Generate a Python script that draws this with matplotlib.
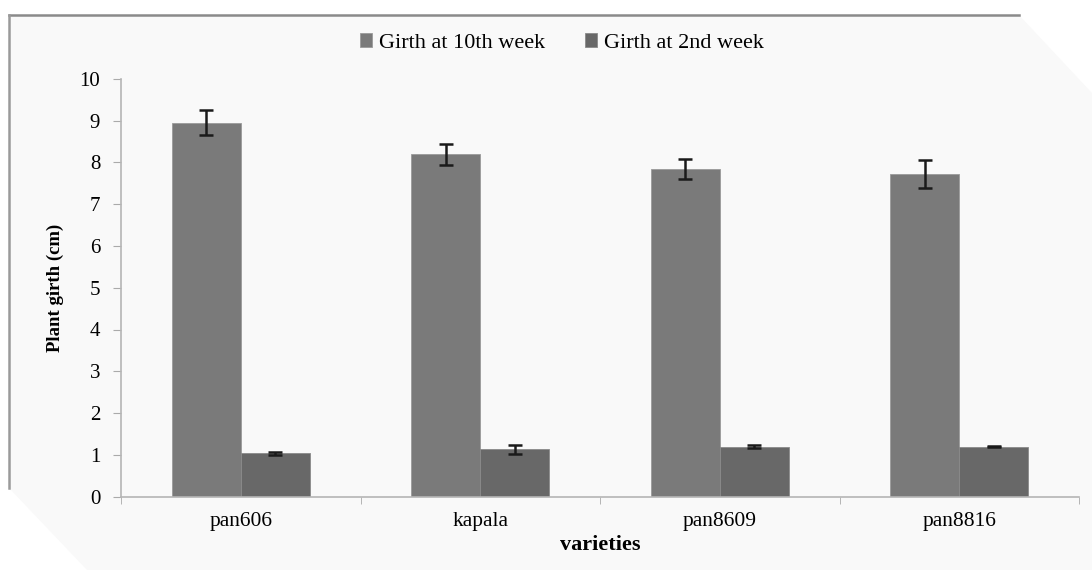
import numpy as np
import matplotlib.pyplot as plt
from matplotlib.patches import Polygon
from matplotlib.lines import Line2D

varieties = ['pan606', 'kapala', 'pan8609', 'pan8816']
girth_10th = [8.95, 8.19, 7.84, 7.72]
err_10th = [0.29, 0.245, 0.25, 0.33]
girth_2nd = [1.04, 1.13, 1.20, 1.20]
err_2nd = [0.04, 0.10, 0.04, 0.02]
series_names = ['Girth at 10th week', 'Girth at 2nd week']

plt.rcParams['font.family'] = ['Liberation Serif', 'DejaVu Serif']

W, H = 1092, 570
fig = plt.figure(figsize=(W / 100, H / 100), dpi=100)
fig.patch.set_facecolor('white')

# beveled panel behind the chart (pixel coords -> figure fraction)
def fp(x, y):
    return (x / W, 1 - y / H)

panel = Polygon([fp(9, 15), fp(1019, 15), fp(1092, 93), fp(1092, 570),
                 fp(87, 570), fp(9, 488)], closed=True,
                transform=fig.transFigure, facecolor='#f9f9f9',
                edgecolor='none', zorder=-5)
fig.patches.append(panel)
fig.lines.append(Line2D([fp(9, 15)[0], fp(1019, 15)[0]], [fp(9, 15)[1]] * 2,
                        transform=fig.transFigure, color='#8a8a8a', lw=1.8, zorder=-4))
fig.lines.append(Line2D([fp(9, 15)[0]] * 2, [fp(9, 15)[1], fp(9, 488)[1]],
                        transform=fig.transFigure, color='#9a9a9a', lw=1.8, zorder=-4))

ax = fig.add_axes([121 / W, 1 - 496.7 / H, (1079 - 121) / W, (496.7 - 78.7) / H])
ax.set_facecolor('none')

x = np.arange(len(varieties))
w = 0.288
ax.bar(x - w / 2, girth_10th, w, color='#7a7a7a', edgecolor='#9a9a9a',
       linewidth=0.6, label=series_names[0], zorder=2)
ax.bar(x + w / 2, girth_2nd, w, color='#686868', edgecolor='#8a8a8a',
       linewidth=0.6, label=series_names[1], zorder=2)
ax.errorbar(x - w / 2, girth_10th, yerr=err_10th, fmt='none', ecolor='#1a1a1a',
            elinewidth=1.8, capsize=5, capthick=1.8, zorder=3)
ax.errorbar(x + w / 2, girth_2nd, yerr=err_2nd, fmt='none', ecolor='#1a1a1a',
            elinewidth=1.8, capsize=5, capthick=1.8, zorder=3)

ax.set_xlim(-0.5, len(varieties) - 0.5)
ax.set_ylim(0, 10)
ax.set_yticks(range(0, 11))
ax.set_xticks(x)
ax.set_xticklabels(varieties)
ax.set_xticks(np.arange(-0.5, len(varieties)), minor=True)
ax.tick_params(axis='x', which='major', length=0, pad=11, labelsize=15.5)
ax.tick_params(axis='x', which='minor', length=5, color='#aaaaaa', direction='out')
ax.tick_params(axis='y', length=6, color='#aaaaaa', labelsize=15, pad=9)

for s in ['top', 'right']:
    ax.spines[s].set_visible(False)
for s in ['left', 'bottom']:
    ax.spines[s].set_color('#b5b5b5')
    ax.spines[s].set_linewidth(1.2)

ax.set_ylabel('Plant girth (cm)', fontsize=13.5, fontweight='bold', labelpad=11)
ax.set_xlabel('varieties', fontsize=16, fontweight='bold', labelpad=3)

fig.legend(loc='center', bbox_to_anchor=(562 / W, 1 - 43 / H), ncol=2,
           frameon=False, fontsize=16, handlelength=0.55, handleheight=0.55,
           handletextpad=0.3, columnspacing=1.8)

fig.savefig('out.png', dpi=100)
